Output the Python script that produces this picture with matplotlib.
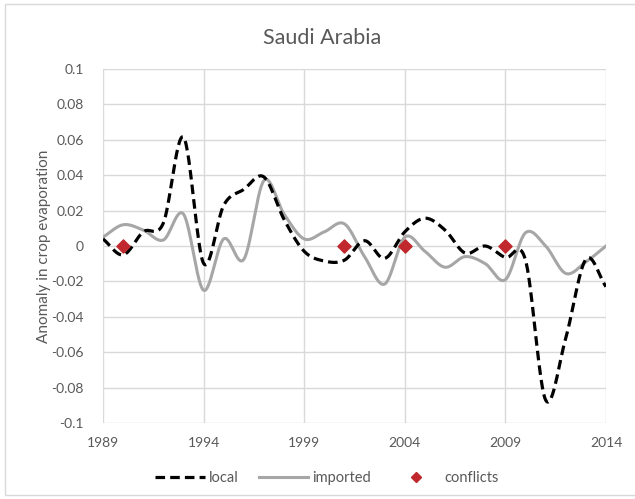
import numpy as np
import matplotlib.pyplot as plt
from matplotlib.patches import Rectangle
from matplotlib.lines import Line2D

plt.rcParams['font.family'] = ['Lato', 'DejaVu Sans']

years = list(range(1989, 2015))
local = [0.004, -0.005, 0.008, 0.013, 0.0615, -0.0098, 0.023, 0.032, 0.039,
         0.015, -0.003, -0.0085, -0.008, 0.003, -0.007, 0.008, 0.0157, 0.009,
         -0.004, 0.0, -0.0065, -0.008, -0.087, -0.052, -0.0075, -0.023]
imported = [0.005, 0.012, 0.009, 0.0034, 0.018, -0.025, 0.004, -0.0075, 0.037,
            0.018, 0.004, 0.008, 0.0125, -0.006, -0.0215, 0.005, -0.003, -0.012,
            -0.006, -0.01, -0.019, 0.0075, 0.0, -0.0155, -0.009, 0.0]
conflict_years = [1990, 2001, 2004, 2009]
conflict_vals = [0, 0, 0, 0]


def smooth(x, y, n=30):
    # catmull-rom curve through every point, like a spreadsheet "smoothed line"
    x = np.asarray(x, float)
    y = np.asarray(y, float)
    px = np.concatenate([[2 * x[0] - x[1]], x, [2 * x[-1] - x[-2]]])
    py = np.concatenate([[2 * y[0] - y[1]], y, [2 * y[-1] - y[-2]]])
    xs, ys = [], []
    t = np.linspace(0, 1, n, endpoint=False)
    for i in range(1, len(px) - 2):
        for p, out in ((px, xs), (py, ys)):
            p0, p1, p2, p3 = p[i - 1], p[i], p[i + 1], p[i + 2]
            out.extend(0.5 * (2 * p1 + (-p0 + p2) * t
                              + (2 * p0 - 5 * p1 + 4 * p2 - p3) * t ** 2
                              + (-p0 + 3 * p1 - 3 * p2 + p3) * t ** 3))
    xs.append(x[-1])
    ys.append(y[-1])
    return np.array(xs), np.array(ys)


fig = plt.figure(figsize=(6.35, 4.99), dpi=100)
fig.patches.append(Rectangle((5 / 635, 4 / 499), 1.0, 491 / 499, transform=fig.transFigure,
                             fill=False, edgecolor='#d9d9d9', linewidth=1))
ax = fig.add_axes([103 / 635, 1 - 423 / 499, 503 / 635, 354 / 499])

grid_c = '#d9d9d9'
text_c = '#595959'

ax.set_xlim(1989, 2014)
ax.set_ylim(-0.1, 0.1)
ax.set_xticks(range(1989, 2015, 5))
ax.set_yticks(np.round(np.arange(-0.1, 0.101, 0.02), 2))
ax.set_yticklabels(['-0.1', '-0.08', '-0.06', '-0.04', '-0.02', '0',
                    '0.02', '0.04', '0.06', '0.08', '0.1'])
ax.grid(True, color=grid_c, linewidth=1)
ax.set_axisbelow(True)
for s in ax.spines.values():
    s.set_visible(False)
ax.tick_params(length=0, colors=text_c, labelsize=10)
ax.tick_params(axis='y', pad=14)
ax.tick_params(axis='x', pad=10)

lx, ly = smooth(years, local)
ix, iy = smooth(years, imported)
ax.plot(ix, iy, color='#a6a6a6', linewidth=2.2, label='imported', zorder=2)
ax.plot(lx, ly, color='black', linewidth=2.3, dashes=(3, 1.6), label='local', zorder=3)
ax.scatter(conflict_years, conflict_vals, marker='D', s=45, color='#c0282d',
           zorder=4, label='conflicts', clip_on=False)

fig.text(0.507, 1 - 38 / 499, 'Saudi Arabia', fontsize=15.5, color=text_c,
         ha='center', va='center')
ax.set_ylabel('Anomaly in crop evaporation', fontsize=11, color=text_c, labelpad=0)

handles = [Line2D([], [], color='black', linewidth=2.3, dashes=(3, 1.6)),
           Line2D([], [], color='#a6a6a6', linewidth=2.2),
           Line2D([], [], marker='D', color='#c0282d', linestyle='none', markersize=5)]
fig.legend(handles, ['local', 'imported', 'conflicts'], loc='center',
           bbox_to_anchor=(0.515, 1 - 478 / 499), ncol=3, frameon=False,
           fontsize=10.5, labelcolor=text_c, handlelength=3.4, columnspacing=1.4,
           handletextpad=0.25)

fig.savefig('out.png', dpi=100)
